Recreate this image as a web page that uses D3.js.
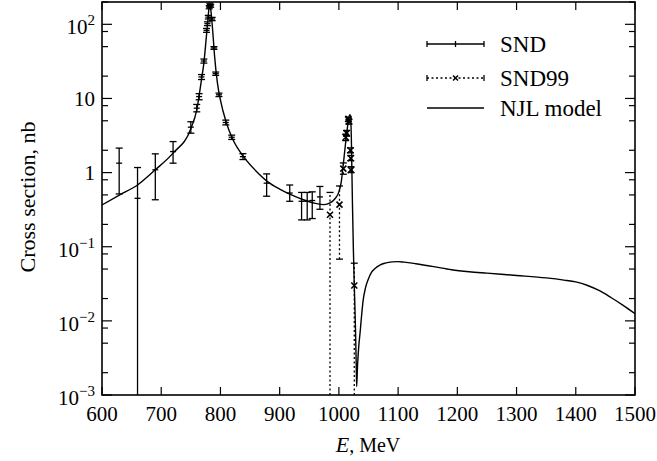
<!DOCTYPE html>
<html><head><meta charset="utf-8">
<script src="https://cdn.jsdelivr.net/npm/d3@7"></script>
<style>body{margin:0;background:#fff}svg{display:block}</style>
</head><body><svg id="c" width="657" height="461"></svg>
<script>
// ---- data ----
const xTicks = [600,700,800,900,1000,1100,1200,1300,1400,1500];
const xTickLabels = ["600","700","800","900","1000","1100","1200","1300","1400","1500"];
const yMajor = [1e-3,1e-2,1e-1,1,10,100];
const yTickBase = ["10","10","10","1","10","10"];
const yTickSup  = ["−3","−2","−1","","","2"];
const yMinorMult = [2,5,8];

// SND (solid error bars)
const sndE  = [629,660,690,720,750,760,764,768,772,776.5,778,779.5,781,782,783.5,786,789,792,797.5,809,819,838,878,917,937,946.5,955,968];
const sndY  = [1.34,0.45,1.09,1.92,4.1,7.4,10.6,19.5,32,83,102,125,170,185,178,118,48,21.6,11.2,4.74,3.0,1.64,0.72,0.53,0.41,0.41,0.42,0.47];
const sndLo = [0.515,0,0.43,1.34,3.4,6.6,9.6,18,30,78,96,118,162,177,170,112,46,20.5,10.6,4.4,2.8,1.5,0.48,0.41,0.23,0.23,0.24,0.32];
const sndHi = [2.14,1.17,1.79,2.62,4.85,8.3,11.6,21,34,88,108,132,178,193,186,124,50,22.7,11.8,5.1,3.2,1.8,0.96,0.68,0.54,0.54,0.55,0.65];

// SND99 (dotted error bars, x markers)
const s99E  = [985,1001,1007.5,1011.5,1013,1016,1017,1019.5,1020,1020.5,1026];
const s99Y  = [0.27,0.37,1.13,3.0,3.4,5.3,4.9,2.0,1.56,1.09,0.030];
const s99Lo = [0,0.068,0.95,2.7,3.1,4.9,4.5,1.85,1.45,1.0,0];
const s99Hi = [0.54,0.66,1.35,3.3,3.7,5.6,5.2,2.15,1.7,1.2,0.06];

// NJL model
const njlE = [600,630,660,690,720,750,760,768,772,776,779,781,782,784,787,790,795,800,810,820,840,860,880,900,920,940,960,975,985,993,1000,1004,1007,1010,1013,1016,1018,1019.5,1021,1022,1023,1024.5,1026,1028,1029.3,1030,1031.5,1033.5,1035.7,1038,1041,1045,1050,1055,1061,1070,1078,1090,1100,1110,1130,1160,1190,1220,1250,1300,1350,1380,1400,1420,1440,1460,1480,1500];
const njlY = [0.366,0.50,0.68,1.09,1.83,3.9,7.0,18,30,65,120,175,185,150,80,38,16,9.5,4.7,2.9,1.6,1.05,0.75,0.6,0.5,0.43,0.385,0.37,0.39,0.44,0.55,0.75,1.2,2.0,3.3,5.0,6.0,6.0,3.0,1.0,0.35,0.09,0.03,0.008,0.0025,0.0013,0.0025,0.0045,0.0068,0.011,0.019,0.028,0.037,0.045,0.051,0.057,0.060,0.0625,0.063,0.062,0.059,0.054,0.049,0.046,0.044,0.041,0.038,0.0355,0.0335,0.030,0.0255,0.0205,0.0162,0.0125];

// ---- layout ----
const FONT = '"Liberation Serif"';
const L=102, R=635, T=2, B=395;
const svg = d3.select("#c");
const x = d3.scaleLinear().domain([600,1500]).range([L,R]);
const y = d3.scaleLog().domain([1e-3,200]).range([B,T]);
const yc = v => v<=0 ? B : Math.min(B, Math.max(T, y(v)));
const txt = (sel) => sel.append("text").style("font-family",FONT).attr("fill","#000");

svg.append("defs").append("clipPath").attr("id","clip")
  .append("rect").attr("x",L).attr("y",T).attr("width",R-L).attr("height",B-T);

// ticks
const g = svg.append("g").attr("stroke","#000").attr("stroke-width",1.2);
xTicks.forEach(v=>{
  g.append("line").attr("x1",x(v)).attr("x2",x(v)).attr("y1",B).attr("y2",B-8);
  g.append("line").attr("x1",x(v)).attr("x2",x(v)).attr("y1",T).attr("y2",T+8);
});
yMajor.forEach(v=>{
  g.append("line").attr("x1",L).attr("x2",L+10).attr("y1",y(v)).attr("y2",y(v));
  g.append("line").attr("x1",R).attr("x2",R-10).attr("y1",y(v)).attr("y2",y(v));
  yMinorMult.forEach(m=>{
    const mv=v*m; if(mv>200) return;
    g.append("line").attr("x1",L).attr("x2",L+6).attr("y1",y(mv)).attr("y2",y(mv));
    g.append("line").attr("x1",R).attr("x2",R-6).attr("y1",y(mv)).attr("y2",y(mv));
  });
});

// frame
svg.append("rect").attr("x",L).attr("y",T).attr("width",R-L).attr("height",B-T)
  .attr("fill","none").attr("stroke","#000").attr("stroke-width",1.6);

// tick labels
xTicks.forEach((v,i)=>{
  txt(svg).attr("x",x(v)).attr("y",421).attr("text-anchor","middle")
    .attr("font-size",21).text(xTickLabels[i]);
});
yMajor.forEach((v,i)=>{
  const t = txt(svg).attr("x",95).attr("y",y(v)+(yTickSup[i]?10:7.5))
    .attr("text-anchor","end").attr("font-size",21);
  t.append("tspan").text(yTickBase[i]);
  if(yTickSup[i]) t.append("tspan").attr("dy",-9).attr("font-size",15).text(yTickSup[i]);
});

// axis titles
const xt = txt(svg).attr("x",368).attr("y",452).attr("text-anchor","middle").attr("font-size",20);
xt.append("tspan").attr("font-style","italic").attr("font-size",22).text("E");
xt.append("tspan").text(", MeV");
txt(svg).attr("transform","translate(35,197) rotate(-90)").attr("text-anchor","middle")
  .attr("font-size",22).text("Cross section, nb");

// plot content
const p = svg.append("g").attr("clip-path","url(#clip)");
const line = d3.line().x(d=>x(d[0])).y(d=>y(d[1])).curve(d3.curveMonotoneX);
p.append("path").datum(njlE.map((e,i)=>[e,njlY[i]]))
  .attr("d",line).attr("fill","none").attr("stroke","#000").attr("stroke-width",1.4);

// SND points
sndE.forEach((e,i)=>{
  const cx=x(e);
  p.append("line").attr("x1",cx).attr("x2",cx).attr("y1",yc(sndLo[i])).attr("y2",yc(sndHi[i]))
    .attr("stroke","#000").attr("stroke-width",1.3);
  [sndLo[i],sndHi[i]].forEach(v=>{ if(v>0)
    p.append("line").attr("x1",cx-3.5).attr("x2",cx+3.5).attr("y1",yc(v)).attr("y2",yc(v))
      .attr("stroke","#000").attr("stroke-width",1.3);});
  p.append("line").attr("x1",cx-3).attr("x2",cx+3).attr("y1",y(sndY[i])).attr("y2",y(sndY[i]))
    .attr("stroke","#000").attr("stroke-width",1.3);
});

// SND99 points
s99E.forEach((e,i)=>{
  const cx=x(e);
  p.append("line").attr("x1",cx).attr("x2",cx).attr("y1",yc(s99Lo[i])).attr("y2",yc(s99Hi[i]))
    .attr("stroke","#000").attr("stroke-width",1.3).attr("stroke-dasharray","2,2.5");
  [s99Lo[i],s99Hi[i]].forEach(v=>{ if(v>0)
    p.append("line").attr("x1",cx-3.5).attr("x2",cx+3.5).attr("y1",yc(v)).attr("y2",yc(v))
      .attr("stroke","#000").attr("stroke-width",1.3);});
  const cy=y(s99Y[i]), s=3;
  p.append("path").attr("d",`M${cx-s},${cy-s}L${cx+s},${cy+s}M${cx-s},${cy+s}L${cx+s},${cy-s}`)
    .attr("stroke","#000").attr("stroke-width",1.6);
});

// legend
const lx1=427, lx2=484, lm=(lx1+lx2)/2, tx=500;
const leg = svg.append("g").attr("stroke","#000").attr("stroke-width",1.3);
leg.append("line").attr("x1",lx1).attr("x2",lx2).attr("y1",44).attr("y2",44);
[lx1,lm,lx2].forEach(v=>leg.append("line").attr("x1",v).attr("x2",v).attr("y1",41).attr("y2",47));
leg.append("line").attr("x1",lx1).attr("x2",lx2).attr("y1",78).attr("y2",78).attr("stroke-dasharray","2,2.5");
[lx1,lx2].forEach(v=>leg.append("line").attr("x1",v).attr("x2",v).attr("y1",75).attr("y2",81));
leg.append("path").attr("d",`M${lm-2.5},75.5L${lm+2.5},80.5M${lm-2.5},80.5L${lm+2.5},75.5`).attr("stroke-width",1.5);
leg.append("line").attr("x1",lx1).attr("x2",lx2).attr("y1",108).attr("y2",108);
[["SND",51.5],["SND99",86],["NJL model",115.5]].forEach(d=>{
  txt(svg).attr("x",tx).attr("y",d[1]).attr("font-size",23).text(d[0]);
});
</script></body></html>
